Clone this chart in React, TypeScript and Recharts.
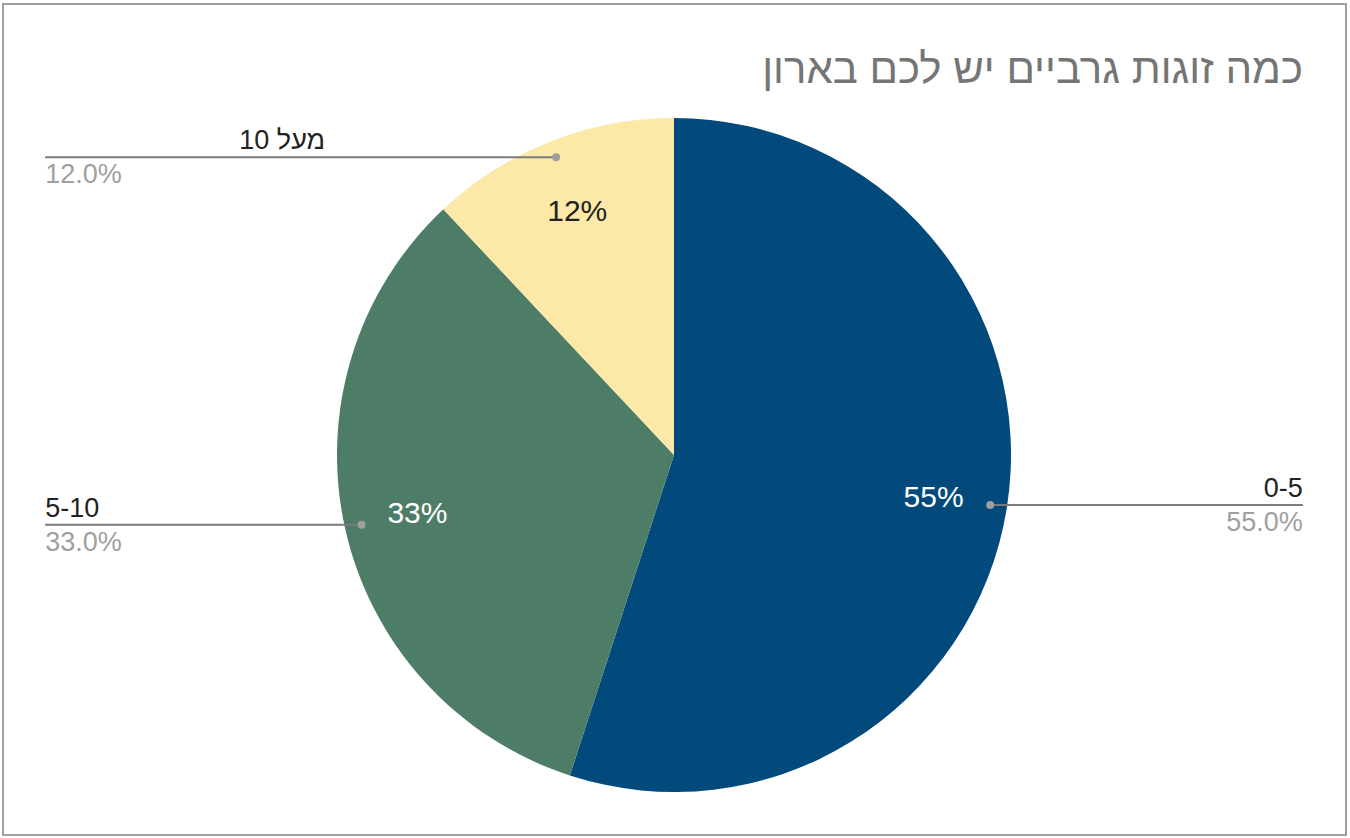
import { Cell, Pie, PieChart } from "recharts";

const chartTitle = "כמה זוגות גרביים יש לכם בארון";
const categories = ["0-5", "5-10", "מעל 10"];
const shares = [55, 33, 12];
const sliceColors = ["#02497c", "#4e7d67", "#fce8a7"];
const insideTextColors = ["#ffffff", "#ffffff", "#222222"];

const data = categories.map((name, i) => ({ name, value: shares[i] }));

const FONT = "'Liberation Sans', Arial, 'DejaVu Sans', sans-serif";
const RADIAN = Math.PI / 180;
const hebrew = /[\u0590-\u05FF]/;

function renderLabel(props: any) {
  const { cx, cy, midAngle, outerRadius, percent, index, name } = props;
  const cos = Math.cos(-midAngle * RADIAN);
  const sin = Math.sin(-midAngle * RADIAN);
  const ix = cx + outerRadius * 0.78 * cos;
  const iy = cy + outerRadius * 0.78 * sin;
  const dotX = cx + outerRadius * 0.95 * cos;
  const dotY = cy + outerRadius * 0.95 * sin;
  const right = cos >= 0;
  const endX = right ? cx + outerRadius * 1.866 : cx - outerRadius * 1.866;

  let nameX = endX;
  let nameAnchor: "start" | "end" = right ? "end" : "start";
  if (!right && hebrew.test(name)) {
    nameX = endX + 280;
    nameAnchor = "end";
  }

  return (
    <g>
      <text
        x={ix}
        y={iy}
        textAnchor="middle"
        dominantBaseline="central"
        fill={insideTextColors[index]}
        fontSize={30}
        fontFamily={FONT}
      >
        {Math.round(percent * 100)}%
      </text>
      <line x1={dotX} y1={dotY} x2={endX} y2={dotY} stroke="#7a7a7a" strokeWidth={2} />
      <circle cx={dotX} cy={dotY} r={4} fill="#9e9e9e" />
      <text
        x={nameX}
        y={dotY - 8}
        textAnchor={nameAnchor}
        fill="#222222"
        fontSize={27}
        fontFamily={FONT}
      >
        {name}
      </text>
      <text
        x={endX}
        y={dotY + 26}
        textAnchor={right ? "end" : "start"}
        fill="#a0a0a0"
        fontSize={27}
        fontFamily={FONT}
      >
        {(percent * 100).toFixed(1)}%
      </text>
    </g>
  );
}

export default function App() {
  return (
    <div
      style={{
        position: "absolute",
        left: 0,
        top: 0,
        width: 1350,
        height: 838,
        background: "#ffffff",
        fontFamily: FONT,
      }}
    >
      <div
        style={{
          position: "absolute",
          left: 2,
          top: 3,
          width: 1341,
          height: 829,
          border: "2px solid #a0a0a0",
        }}
      />
      <div
        style={{
          position: "absolute",
          right: 47,
          top: 45,
          fontSize: 42,
          color: "#757575",
          direction: "rtl",
          whiteSpace: "nowrap",
        }}
      >
        {chartTitle}
      </div>
      <div style={{ position: "absolute", left: 0, top: 0 }}>
        <PieChart width={1350} height={838} margin={{ top: 0, right: 0, bottom: 0, left: 0 }}>
          <Pie
            data={data}
            dataKey="value"
            nameKey="name"
            cx={674}
            cy={455}
            outerRadius={337}
            startAngle={90}
            endAngle={-270}
            stroke="none"
            label={renderLabel}
            labelLine={false}
            isAnimationActive={false}
          >
            {data.map((d, i) => (
              <Cell key={d.name} fill={sliceColors[i]} />
            ))}
          </Pie>
        </PieChart>
      </div>
    </div>
  );
}
